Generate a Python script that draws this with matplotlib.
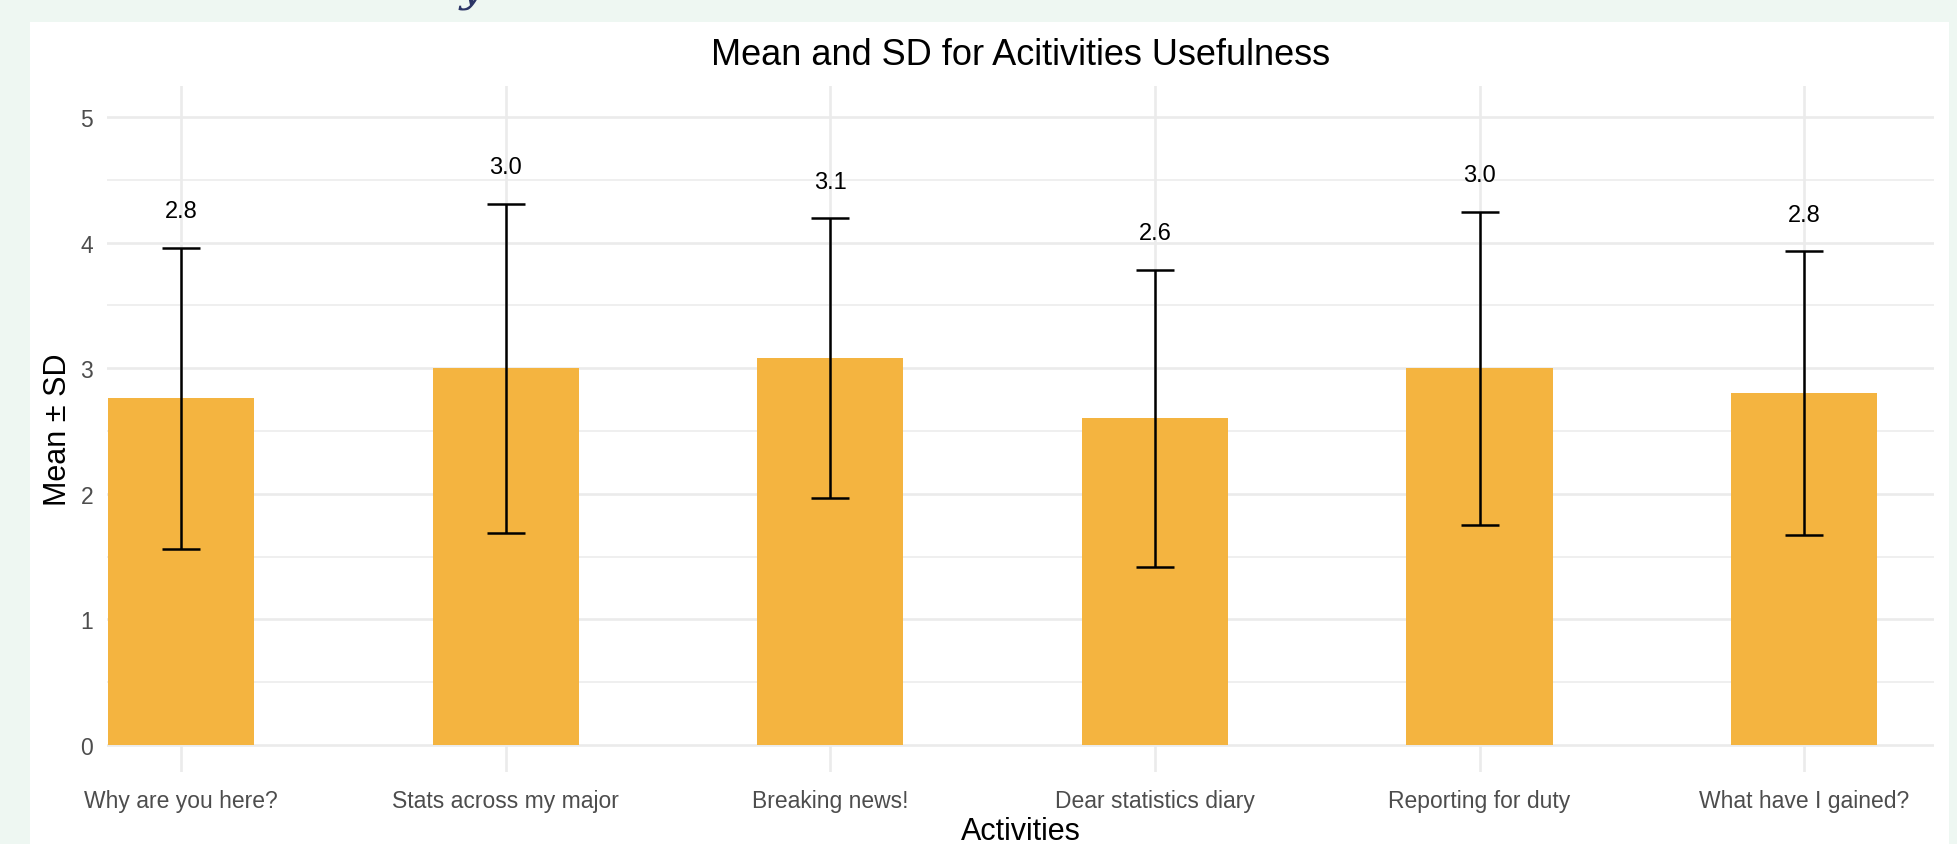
import matplotlib
matplotlib.use("Agg")
import matplotlib.pyplot as plt
from matplotlib.patches import Rectangle
import numpy as np

plt.rcParams['font.family'] = ['Liberation Sans', 'DejaVu Sans']

activities = ["Why are you here?", "Stats across my major", "Breaking news!",
              "Dear statistics diary", "Reporting for duty", "What have I gained?"]
means = [2.76, 3.00, 3.08, 2.60, 3.00, 2.80]
sds = [1.20, 1.31, 1.115, 1.185, 1.245, 1.13]

BAR_COLOR = "#f4b440"
GRID = "#ebebeb"
PAGE_BG = "#eef7f2"

fig = plt.figure(figsize=(19.57, 8.45), dpi=100)
fig.patch.set_facecolor(PAGE_BG)

# white card behind the chart
card = Rectangle((30 / 1957, 0), (1949 - 30) / 1957, 1 - 23 / 845,
                 transform=fig.transFigure, facecolor="white", edgecolor="none", zorder=-10)
fig.add_artist(card)

# tail of the page heading cut off at the top
fig.text(0.235, 1.0, "y", fontsize=30, family="DejaVu Serif", style="italic",
         color="#2b3566", ha="left", va="baseline")

ax = fig.add_axes([107 / 1957, 1 - 773 / 845, (1934 - 107) / 1957, (773 - 87) / 845])
ax.set_facecolor("none")

x = np.arange(1, len(activities) + 1)
ax.bar(x, means, width=0.45, color=BAR_COLOR, zorder=2)
ax.errorbar(x, means, yerr=sds, fmt="none", ecolor="black", elinewidth=1.8,
            capsize=13.7, capthick=1.8, zorder=3)

for xi, m, s in zip(x, means, sds):
    ax.text(xi, m + s + 0.29, f"{m:.1f}", ha="center", va="center",
            fontsize=17, color="black", zorder=4)

ax.set_xlim(0.772, 6.40)
ax.set_ylim(-0.215, 5.247)
ax.set_yticks([0, 1, 2, 3, 4, 5])
ax.set_yticks(np.arange(0.5, 5, 1), minor=True)
ax.set_xticks(x)
ax.set_xticklabels(activities)

ax.grid(True, which="major", axis="both", color=GRID, linewidth=1.9, zorder=0)
ax.grid(True, which="minor", axis="y", color=GRID, linewidth=1.1, zorder=0)
ax.set_axisbelow(True)

for sp in ax.spines.values():
    sp.set_visible(False)

ax.tick_params(axis="both", which="both", length=0, labelsize=16.5, labelcolor="#4d4d4d")
ax.tick_params(axis="x", pad=12)
ax.tick_params(axis="y", pad=10)

ax.set_xlabel("Activities", fontsize=22, labelpad=3)
ax.set_ylabel("Mean ± SD", fontsize=22, labelpad=5)
ax.set_title("Mean and SD for Acitivities Usefulness", fontsize=26, pad=16)

fig.savefig("out.png", dpi=100, facecolor=fig.get_facecolor())
